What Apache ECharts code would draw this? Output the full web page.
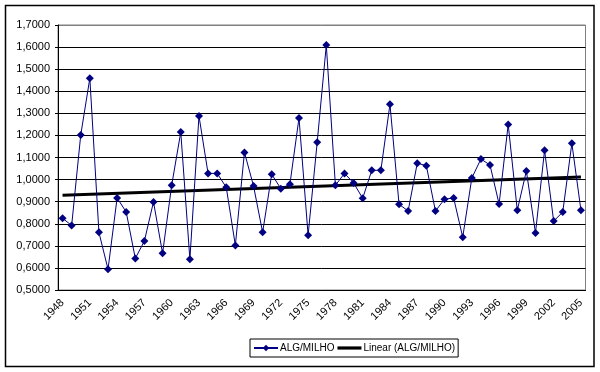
<!DOCTYPE html>
<html>
<head>
<meta charset="utf-8">
<script src="https://cdn.jsdelivr.net/npm/echarts@6/dist/echarts.min.js"></script>
<style>html,body{margin:0;padding:0;background:#fff}#c{width:600px;height:372px}</style>
</head>
<body>
<div id="c"></div>
<script>
var years = [];
for (var y = 1948; y <= 2005; y++) years.push(String(y));
var algMilho = [
  0.825, 0.792, 1.202, 1.459, 0.761, 0.594, 0.917, 0.853, 0.643, 0.722,
  0.899, 0.666, 0.974, 1.215, 0.639, 1.288, 1.028, 1.028, 0.965, 0.702,
  1.123, 0.971, 0.761, 1.024, 0.959, 0.979, 1.279, 0.748, 1.169, 1.609,
  0.974, 1.028, 0.985, 0.915, 1.042, 1.042, 1.341, 0.888, 0.858, 1.074,
  1.063, 0.858, 0.911, 0.917, 0.739, 1.007, 1.093, 1.066, 0.889, 1.250,
  0.861, 1.039, 0.758, 1.1325, 0.812, 0.853, 1.164, 0.861
];
var trendStart = 0.929;
var trendEnd = 1.012;
var trend = years.map(function (_, i) {
  return i === 0 ? trendStart : (i === years.length - 1 ? trendEnd : null);
});
var font = '"Liberation Sans", Arial, sans-serif';
var splitColors = [];
for (var k = 0; k < 12; k++) splitColors.push('#000');
splitColors.push('#808080');

var chart = echarts.init(document.getElementById('c'));
chart.setOption({
  animation: false,
  backgroundColor: '#fff',
  textStyle: { fontFamily: font },
  grid: { left: 58, top: 25, right: 14.5, bottom: 82, show: true, borderColor: '#808080', borderWidth: 1 },
  xAxis: {
    type: 'category', data: years, boundaryGap: true,
    axisLine: { lineStyle: { color: '#000', width: 1 } },
    axisTick: { interval: 0, length: 4, lineStyle: { color: '#000' } },
    axisLabel: { interval: 2, rotate: 45, fontSize: 11, color: '#000', fontFamily: font, margin: 11 },
    splitLine: { show: false }
  },
  yAxis: {
    type: 'value', min: 0.5, max: 1.7, interval: 0.1,
    axisLine: { show: true, lineStyle: { color: '#000', width: 1 } },
    axisTick: { show: true, length: 3, lineStyle: { color: '#000' } },
    axisLabel: { fontSize: 11, color: '#000', fontFamily: font, margin: 8,
      formatter: function (v) { return v.toFixed(4).replace('.', ','); } },
    splitLine: { show: true, lineStyle: { color: splitColors, width: 1 } }
  },
  legend: {
    left: 250, top: 339, orient: 'horizontal',
    borderColor: '#000', borderWidth: 1, padding: [4, 3, 4, 3],
    itemGap: 3, itemWidth: 24, itemHeight: 8,
    textStyle: { fontSize: 10, color: '#000', fontFamily: font, padding: [0, 0, 0, -3] },
    data: [
      { name: 'ALG/MILHO' },
      { name: 'Linear (ALG/MILHO)', icon: 'path://M0,0H30V4H0Z' }
    ]
  },
  series: [
    {
      name: 'ALG/MILHO', type: 'line', data: algMilho,
      symbol: 'diamond', symbolSize: 8, showSymbol: true, showAllSymbol: true,
      lineStyle: { color: '#000080', width: 1 },
      itemStyle: { color: '#000080' }, z: 3
    },
    {
      name: 'Linear (ALG/MILHO)', type: 'line', data: trend, connectNulls: true,
      symbol: 'none', lineStyle: { color: '#000', width: 3 },
      itemStyle: { color: '#000' }, z: 2
    }
  ],
  graphic: [{
    type: 'rect', shape: { x: 5.5, y: 5.5, width: 588.5, height: 361 },
    style: { fill: null, stroke: '#000', lineWidth: 1.5 }, silent: true
  }]
});
</script>
</body>
</html>
